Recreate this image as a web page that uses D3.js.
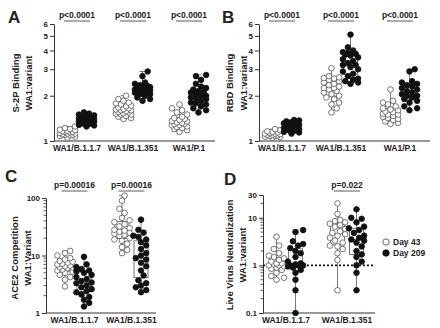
<!DOCTYPE html>
<html>
<head>
<meta charset="utf-8">
<script src="https://cdn.jsdelivr.net/npm/d3@7"></script>
<style>
  body { margin: 0; background: #fff; }
  text { font-family: "Liberation Sans", Arial, sans-serif; font-weight: bold; fill: #222; }
</style>
</head>
<body>
<svg id="fig" width="440" height="328"></svg>
<script>
// categories
let cats3 = ["WA1/B.1.1.7", "WA1/B.1.351", "WA1/P.1"];
let cats2 = ["WA1/B.1.1.7", "WA1/B.1.351"];
let days = ["Day 43", "Day 209"];

// panel A: S-2P binding ratio
let a_d43 = [
  [1.05,1.07,1.08,1.09,1.1,1.1,1.11,1.12,1.12,1.13,1.14,1.15,1.15,1.16,1.17,1.18,1.19,1.2,1.22,1.25],
  [1.4,1.42,1.45,1.47,1.5,1.5,1.52,1.53,1.55,1.56,1.58,1.6,1.6,1.62,1.63,1.65,1.67,1.7,1.72,1.75,1.78,1.8,1.85,1.9,2.0],
  [1.15,1.18,1.2,1.22,1.24,1.25,1.27,1.28,1.3,1.3,1.32,1.33,1.35,1.36,1.38,1.4,1.42,1.45,1.5,1.55,1.6,1.65,1.75]
];
let a_d209 = [
  [1.25,1.27,1.28,1.3,1.3,1.32,1.33,1.34,1.35,1.35,1.36,1.37,1.38,1.38,1.4,1.4,1.41,1.42,1.43,1.44,1.45,1.46,1.48,1.5,1.52,1.55],
  [1.85,1.9,1.95,2.0,2.05,2.05,2.1,2.12,2.15,2.18,2.2,2.2,2.22,2.25,2.25,2.28,2.3,2.3,2.32,2.35,2.4,2.45,2.7,2.9],
  [1.55,1.6,1.65,1.7,1.75,1.78,1.8,1.85,1.9,1.92,1.95,2.0,2.0,2.05,2.1,2.12,2.15,2.2,2.25,2.3,2.4,2.55,2.7,2.75]
];

// panel B: RBD binding ratio
let b_d43 = [
  [1.05,1.06,1.07,1.08,1.08,1.09,1.1,1.1,1.11,1.12,1.12,1.13,1.14,1.15,1.16,1.18,1.2],
  [1.55,1.65,1.75,1.8,1.9,1.95,2.0,2.05,2.1,2.15,2.2,2.25,2.25,2.3,2.35,2.4,2.45,2.5,2.55,2.6,2.62,2.65,2.7,3.05],
  [1.3,1.32,1.35,1.38,1.4,1.42,1.45,1.47,1.5,1.5,1.52,1.55,1.57,1.6,1.62,1.65,1.7,1.75,1.8,1.85,2.2]
];
let b_d209 = [
  [1.12,1.14,1.15,1.17,1.18,1.2,1.2,1.22,1.23,1.24,1.25,1.26,1.27,1.28,1.29,1.3,1.31,1.32,1.33,1.35,1.37,1.38],
  [2.4,2.45,2.5,2.55,2.6,2.7,2.8,2.9,3.0,3.1,3.2,3.2,3.3,3.4,3.5,3.6,3.7,3.75,3.8,3.85,3.9,4.0,4.2,5.1],
  [1.6,1.65,1.7,1.8,1.85,1.9,1.95,2.0,2.0,2.05,2.1,2.15,2.2,2.25,2.3,2.35,2.4,2.45,2.5,2.9,3.0]
];

// panel C: ACE2 competition ratio
let c_d43 = [
  [2.9,3.8,4.2,4.6,5.0,5.2,5.5,5.7,6.0,6.2,6.3,6.5,6.7,7.0,7.2,7.5,7.8,8.0,8.5,9.0,10,11,12],
  [11,12.5,14,16,18,19,20,22,23,24,25,26,27,28,30,32,35,38,41,45,55,65,90,110]
];
let c_d209 = [
  [1.3,1.5,1.7,1.9,2.1,2.3,2.4,2.6,2.8,3.0,3.3,3.4,3.6,3.9,4.2,4.6,5.0,5.3,5.5,5.8,6.3,7.0,9.5],
  [2.3,2.5,2.8,3.0,3.3,3.7,4.5,5.5,6.5,7.5,8.5,9,10,11,13,15,17,19,21,22,25,28,42]
];

// panel D: live virus neutralization ratio
let d_d43 = [
  [0.5,0.55,0.6,0.7,0.8,0.85,0.9,0.95,1.0,1.0,1.05,1.1,1.1,1.2,1.3,1.4,1.5,1.6,1.8,2.2,2.6,4.0],
  [0.3,1.3,1.8,2.2,2.5,2.6,3.0,3.3,3.8,4.2,4.5,4.8,5.2,5.8,6.5,7.0,7.5,8.0,8.5,9.0,12,20]
];
let d_d209 = [
  [0.1,0.3,0.5,0.7,0.8,0.9,0.95,1.0,1.0,1.0,1.05,1.1,1.2,1.5,1.8,2.0,2.3,2.6,2.8,3.2,5.0,5.5],
  [0.3,0.7,1.0,1.2,1.5,1.7,2.0,2.5,3.0,3.3,3.5,3.8,4.2,4.8,5.5,6.0,6.5,8.0,9.5,10,15]
];

// p-value labels
let pA = ["p<0.0001", "p<0.0001", "p<0.0001"];
let pB = ["p<0.0001", "p<0.0001", "p<0.0001"];
let pC = ["p=0.00016", "p=0.00016"];
let pD = [null, "p=0.022"];

// tick labels
let ticksAB = [1, 2, 3, 4, 5, 6];
let ticksC = [1, 10, 100];
let ticksD = [0.1, 1, 10, 30];

let svg = d3.select("#fig");
let R = 2.8;

// simple beeswarm so points do not stack exactly
function swarm(vals, y, cx) {
  let placed = [];
  let cands = [0, 2.6, -2.6, 5.2, -5.2, 7.6, -7.6];
  vals.slice().sort(d3.ascending).forEach(function(v) {
    let py = y(v), best = 0, bestD = -1;
    for (let dx of cands) {
      let minD = Infinity;
      placed.forEach(function(p) {
        let d = Math.hypot(p.x - (cx + dx), p.y - py);
        if (d < minD) minD = d;
      });
      if (minD >= 2 * R) { best = dx; break; }
      if (minD > bestD) { bestD = minD; best = dx; }
    }
    placed.push({x: cx + best, y: py});
  });
  return placed;
}

function drawPanel(cfg) {
  let g = svg.append("g");

  let y = d3.scaleLog().domain(cfg.yDomain).range([cfg.yBottom, cfg.yTop]);
  let x = d3.scaleBand().domain(cfg.cats).range(cfg.xRange).padding(0);
  let sub = d3.scaleBand().domain(days).range([-19, 19]).padding(0);

  // y axis
  let yAxis = d3.axisLeft(y).tickValues(cfg.majors)
    .tickFormat(d3.format("~g")).tickSize(4).tickSizeOuter(0).tickPadding(2);
  let ya = g.append("g").attr("transform", "translate(" + cfg.axisX + ",0)").call(yAxis);
  ya.selectAll("text").style("font-size", "8px");
  ya.selectAll("line, path").attr("stroke", "#333").attr("stroke-width", 1);
  if (cfg.minors) {
    g.append("g").selectAll("line").data(cfg.minors).enter().append("line")
      .attr("x1", cfg.axisX - 2.5).attr("x2", cfg.axisX)
      .attr("y1", function(d) { return y(d); }).attr("y2", function(d) { return y(d); })
      .attr("stroke", "#333").attr("stroke-width", 0.8);
  }

  // x axis
  g.append("line")
    .attr("x1", cfg.axisX).attr("x2", cfg.xEnd)
    .attr("y1", cfg.yBottom).attr("y2", cfg.yBottom)
    .attr("stroke", "#333").attr("stroke-width", 1);
  g.selectAll("clab").data(cfg.cats).enter().append("text")
    .attr("x", function(d) { return x(d) + x.bandwidth() / 2; })
    .attr("y", cfg.yBottom + 10)
    .attr("text-anchor", "middle")
    .style("font-size", "8.5px")
    .text(function(d) { return d; });

  // y title
  cfg.title.forEach(function(t, i) {
    g.append("text")
      .attr("transform", "translate(" + cfg.titleX[i] + "," + cfg.titleY + ") rotate(-90)")
      .attr("text-anchor", "middle")
      .attr("dominant-baseline", "central")
      .style("font-size", "9.5px")
      .text(t);
  });

  // panel letter
  g.append("text").attr("x", cfg.letterX).attr("y", cfg.letterY)
    .style("font-size", "17px").text(cfg.letter);

  // reference line
  if (cfg.refLine) {
    g.append("line")
      .attr("x1", cfg.axisX).attr("x2", cfg.refEnd)
      .attr("y1", y(cfg.refLine)).attr("y2", y(cfg.refLine))
      .attr("stroke", "#111").attr("stroke-width", 1.6)
      .attr("stroke-dasharray", "2,2");
  }

  // boxes + points
  let series = [cfg.d43, cfg.d209];
  series.forEach(function(groups, si) {
    groups.forEach(function(vals, ci) {
      let cx = x(cfg.cats[ci]) + x.bandwidth() / 2 + sub(days[si]) + sub.bandwidth() / 2;
      let s = vals.slice().sort(d3.ascending);
      let q1 = d3.quantile(s, 0.25), med = d3.quantile(s, 0.5), q3 = d3.quantile(s, 0.75);
      let lo = s[0], hi = s[s.length - 1];
      let bw = 14;
      let col = "#555";
      g.append("line").attr("x1", cx).attr("x2", cx).attr("y1", y(lo)).attr("y2", y(hi))
        .attr("stroke", col).attr("stroke-width", 0.8);
      [lo, hi].forEach(function(v) {
        g.append("line").attr("x1", cx - 3).attr("x2", cx + 3).attr("y1", y(v)).attr("y2", y(v))
          .attr("stroke", col).attr("stroke-width", 0.8);
      });
      g.append("rect").attr("x", cx - bw / 2).attr("width", bw)
        .attr("y", y(q3)).attr("height", y(q1) - y(q3))
        .attr("fill", "#fff").attr("stroke", col).attr("stroke-width", 0.8);
      g.append("line").attr("x1", cx - bw / 2).attr("x2", cx + bw / 2)
        .attr("y1", y(med)).attr("y2", y(med)).attr("stroke", col).attr("stroke-width", 0.8);

      let pts = swarm(vals, y, cx);
      g.selectAll(null).data(pts).enter().append("circle")
        .attr("cx", function(d) { return d.x; })
        .attr("cy", function(d) { return d.y; })
        .attr("r", R)
        .attr("fill", si === 0 ? "#fff" : "#111")
        .attr("stroke", si === 0 ? "#555" : "#111")
        .attr("stroke-width", 0.8);
    });
  });

  // p values
  cfg.p.forEach(function(p, ci) {
    if (!p) return;
    let cx = x(cfg.cats[ci]) + x.bandwidth() / 2;
    g.append("line").attr("x1", cx - 13).attr("x2", cx + 13)
      .attr("y1", cfg.pY + 3).attr("y2", cfg.pY + 3)
      .attr("stroke", "#777").attr("stroke-width", 1.2);
    g.append("text").attr("x", cx).attr("y", cfg.pY)
      .attr("text-anchor", "middle").style("font-size", "8.5px").text(p);
  });
}

drawPanel({
  letter: "A", letterX: 8, letterY: 23,
  cats: cats3, d43: a_d43, d209: a_d209, p: pA, pY: 18,
  yDomain: [1, 6], yBottom: 141, yTop: 24, majors: ticksAB,
  axisX: 54, xRange: [49, 217], xEnd: 215,
  title: ["S-2P Binding", "WA1:variant"], titleX: [15, 28], titleY: 83
});

drawPanel({
  letter: "B", letterX: 222, letterY: 23,
  cats: cats3, d43: b_d43, d209: b_d209, p: pB, pY: 18,
  yDomain: [1, 6], yBottom: 141, yTop: 24, majors: ticksAB,
  axisX: 259, xRange: [252.5, 429.5], xEnd: 430,
  title: ["RBD Binding", "WA1:variant"], titleX: [229, 243], titleY: 83
});

drawPanel({
  letter: "C", letterX: 5, letterY: 182,
  cats: cats2, d43: c_d43, d209: c_d209, p: pC, pY: 188,
  yDomain: [1, 100], yBottom: 313, yTop: 198, majors: ticksC,
  minors: [2,3,4,5,6,7,8,9,20,30,40,50,60,70,80,90],
  axisX: 46, xRange: [46, 160], xEnd: 156,
  title: ["ACE2 Competition", "WA1:Variant"], titleX: [14, 27], titleY: 258
});

drawPanel({
  letter: "D", letterX: 224, letterY: 185,
  cats: cats2, d43: d_d43, d209: d_d209, p: pD, pY: 188,
  yDomain: [0.1, 30], yBottom: 313, yTop: 195, majors: ticksD,
  minors: [0.2,0.3,0.4,0.5,0.6,0.7,0.8,0.9,2,3,4,5,6,7,8,9,20],
  axisX: 263, xRange: [255.5, 377.5], xEnd: 375,
  refLine: 1, refEnd: 373,
  title: ["Live Virus Neutralization", "WA1:variant"], titleX: [229, 242], titleY: 255
});

// legend
let legend = svg.append("g").attr("transform", "translate(386,242)");
days.forEach(function(d, i) {
  legend.append("circle").attr("cx", 0).attr("cy", i * 11).attr("r", 3.2)
    .attr("fill", i === 0 ? "#fff" : "#111")
    .attr("stroke", i === 0 ? "#555" : "#111").attr("stroke-width", 0.9);
  legend.append("text").attr("x", 7).attr("y", i * 11 + 3)
    .style("font-size", "8.5px").text(d);
});
</script>
</body>
</html>
